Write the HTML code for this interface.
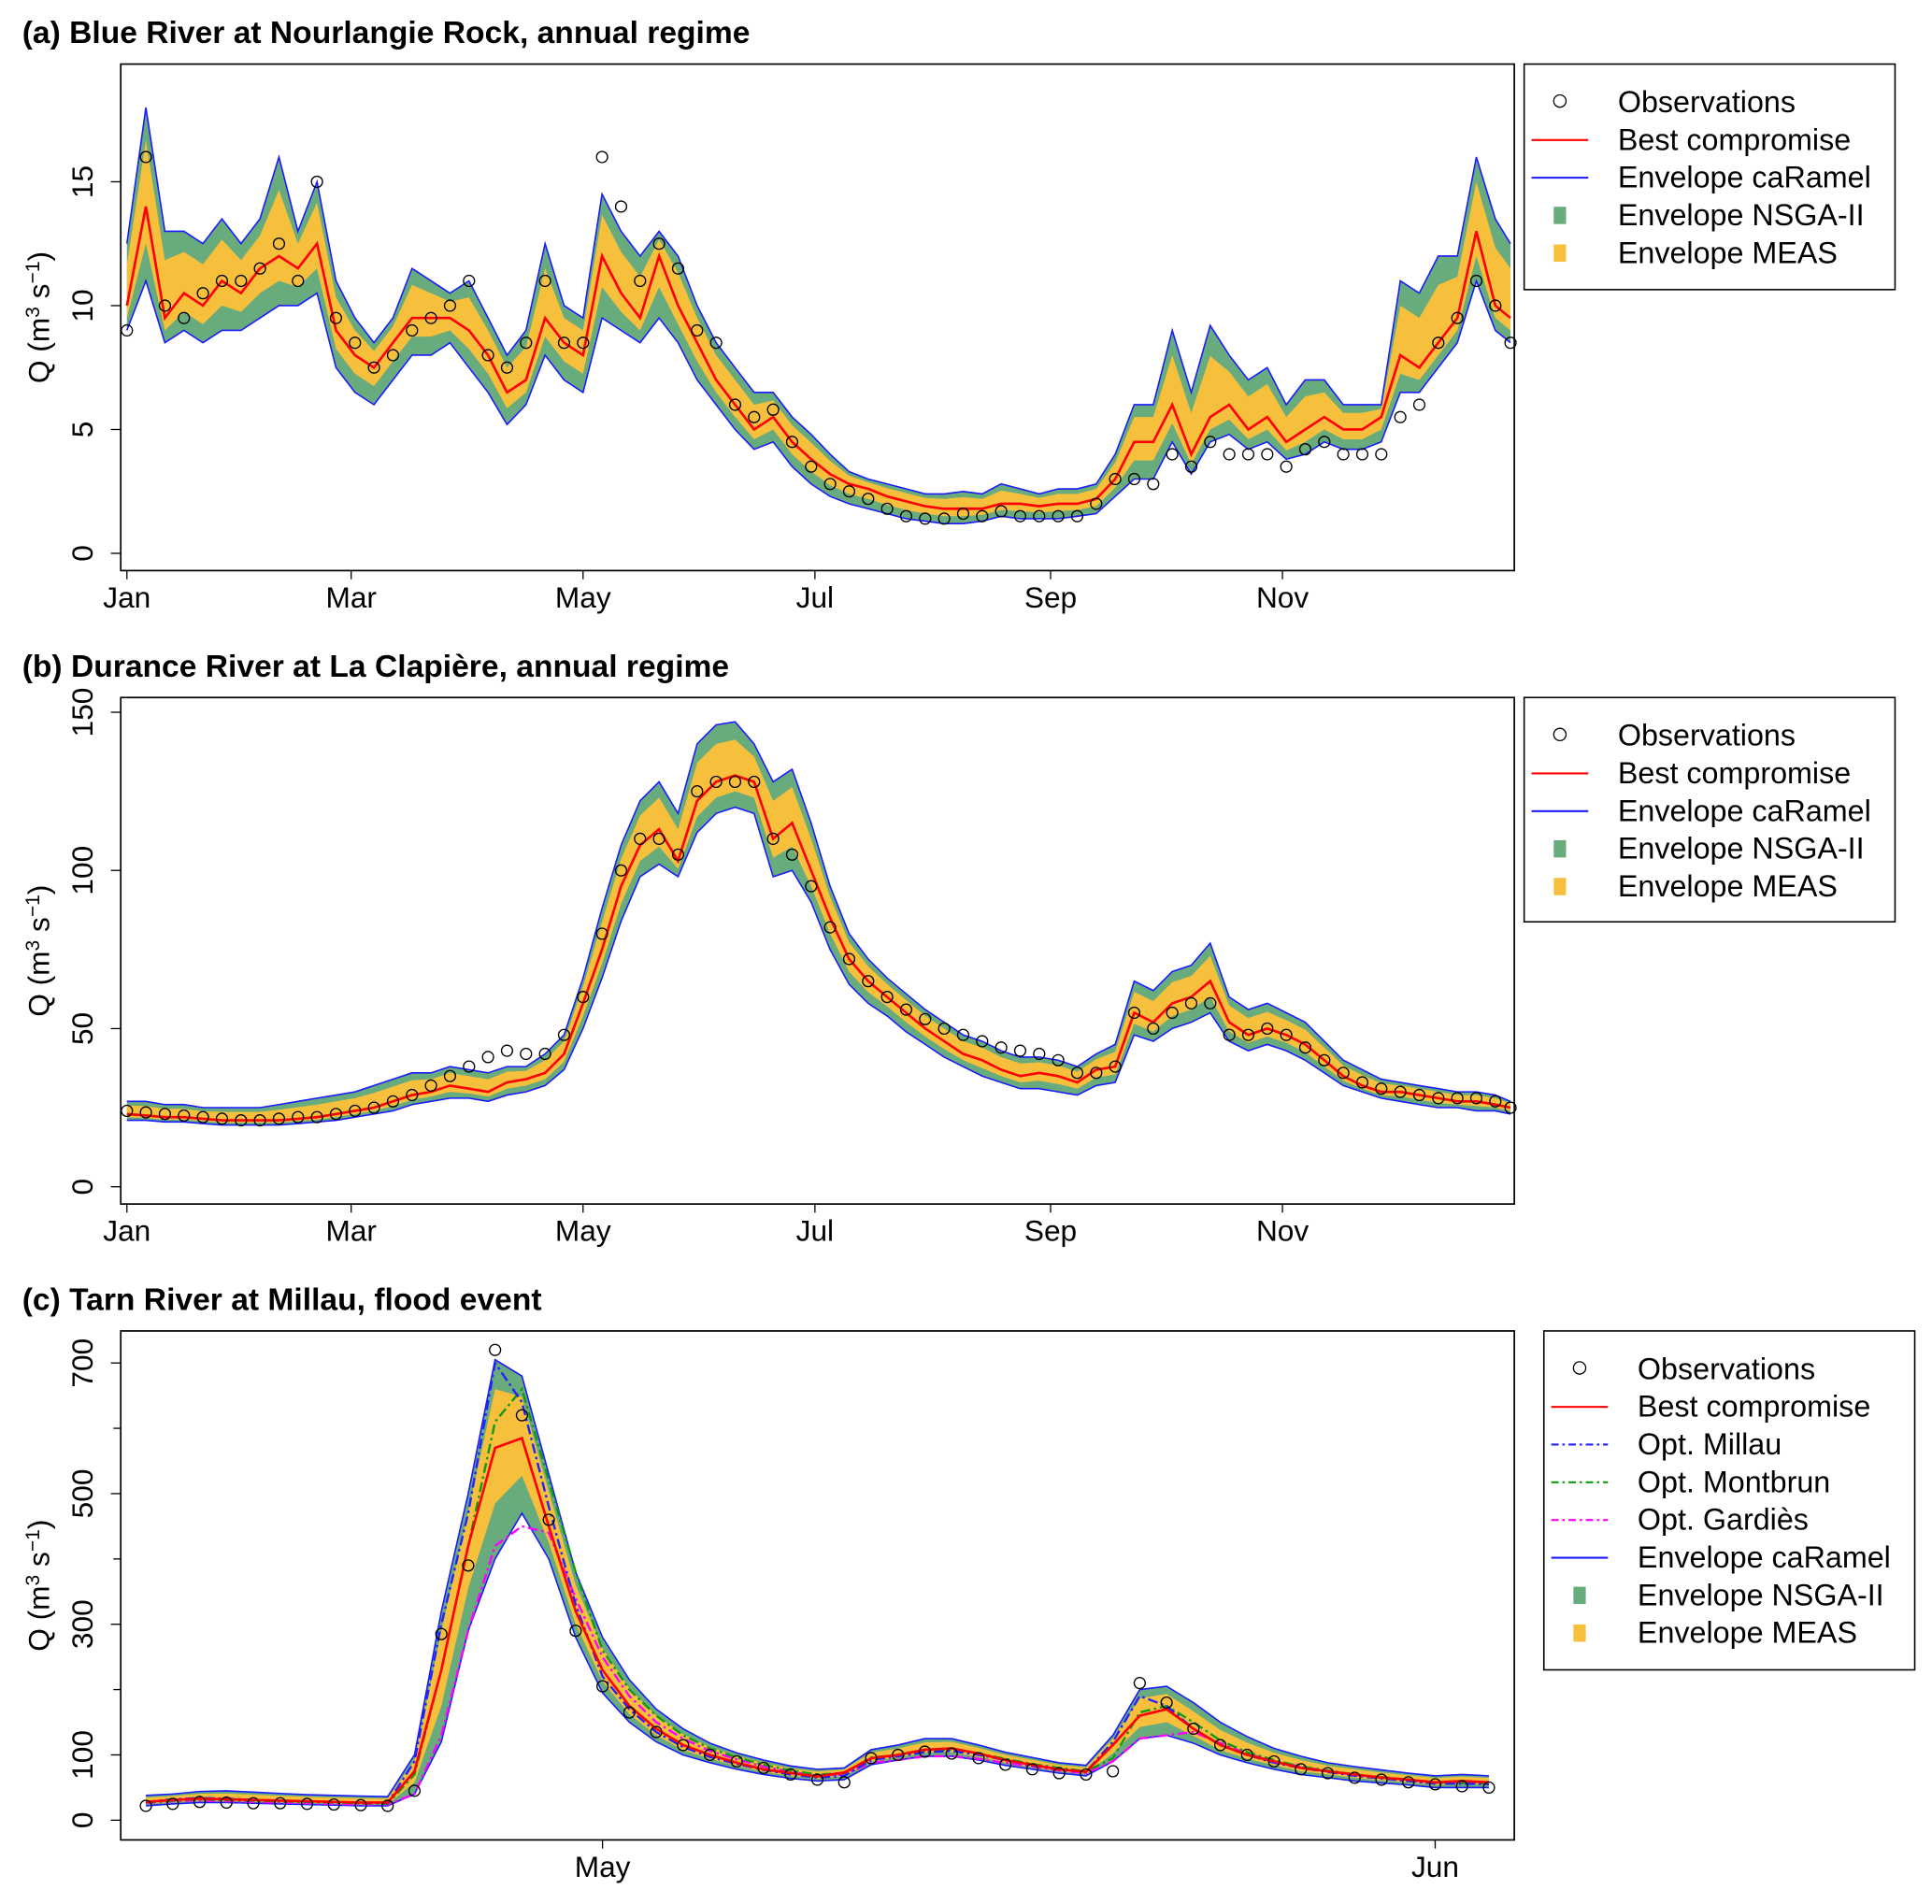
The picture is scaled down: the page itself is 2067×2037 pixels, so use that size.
<!DOCTYPE html>
<html><head><meta charset="utf-8"><style>
html,body{margin:0;padding:0;background:#fff;}
svg{display:block;font-family:"Liberation Sans",Arial,sans-serif;}
</style></head><body>
<svg id="fig" width="2067" height="2037" viewBox="0 0 1568 1545" preserveAspectRatio="none" xmlns="http://www.w3.org/2000/svg"></svg>
<script>
// ---------- Panel (a) data ----------
const doyA = [0,5,10,15,20,25,30,35,40,45,50,55,60,65,70,75,80,85,90,95,100,105,110,115,120,125,130,135,140,145,150,155,160,165,170,175,180,185,190,195,200,205,210,215,220,225,230,235,240,245,250,255,260,265,270,275,280,285,290,295,300,305,310,315,320,325,330,335,340,345,350,355,360,364];
const bestA = [10,14,9.5,10.5,10,11,10.5,11.5,12,11.5,12.5,9,8,7.5,8.5,9.5,9.5,9.5,9,8,6.5,7,9.5,8.5,8,12,10.5,9.5,12,10,8.5,7,6,5,5.5,4.5,3.8,3.2,2.8,2.6,2.3,2.1,1.9,1.8,1.8,1.8,2,2,1.9,2,2,2.2,3,4.5,4.5,6,4,5.5,6,5,5.5,4.5,5,5.5,5,5,5.5,8,7.5,8.5,9.5,13,10,9.5];
const obsA = [9,16,10,9.5,10.5,11,11,11.5,12.5,11,15,9.5,8.5,7.5,8,9,9.5,10,11,8,7.5,8.5,11,8.5,8.5,16,14,11,12.5,11.5,9,8.5,6,5.5,5.8,4.5,3.5,2.8,2.5,2.2,1.8,1.5,1.4,1.4,1.6,1.5,1.7,1.5,1.5,1.5,1.5,2,3,3,2.8,4,3.5,4.5,4,4,4,3.5,4.2,4.5,4,4,4,5.5,6,8.5,9.5,11,10,8.5];
const hiA = [12.5,18,13,13,12.5,13.5,12.5,13.5,16,13,15,11,9.5,8.5,9.5,11.5,11,10.5,11,9.5,8,9,12.5,10,9.5,14.5,13,12,13,12,10,8.5,7.5,6.5,6.5,5.5,4.8,4,3.3,3,2.8,2.6,2.4,2.4,2.5,2.4,2.8,2.6,2.4,2.6,2.6,2.8,4,6,6,9,6.5,9.2,8,7,7.5,6,7,7,6,6,6,11,10.5,12,12,16,13.5,12.5];
const loA = [9,11,8.5,9,8.5,9,9,9.5,10,10,10.5,7.5,6.5,6,7,8,8,8.5,7.5,6.5,5.2,6,8,7,6.5,9.5,9,8.5,9.5,8.5,7,6,5,4.2,4.5,3.5,2.8,2.3,2,1.8,1.6,1.4,1.3,1.2,1.2,1.3,1.5,1.4,1.4,1.4,1.5,1.6,2.3,3,3,4.5,3.2,4.5,4.8,4.2,4.5,3.8,4,4.5,4.2,4.2,4.5,6.5,6.5,7.5,8.5,11,9,8.5];
const yTicksA = [0,5,10,15];

// ---------- Panel (b) data ----------
const doyB = doyA.slice();
const bestB = [23,22.5,22,22,21.5,21,21,21,21,21.5,22,23,24,25,27,29,30,32,31,30,33,34,36,42,58,75,95,108,113,103,122,128,130,128,110,115,100,85,72,65,60,55,50,46,42,40,37,35,36,35,33,37,38,55,52,58,60,65,52,48,50,48,45,40,35,32,30,30,29,28,27,27,26,25];
const obsB = [24,23.5,23,22.5,22,21.5,21,21,21.5,22,22,23,24,25,27,29,32,35,38,41,43,42,42,48,60,80,100,110,110,105,125,128,128,128,110,105,95,82,72,65,60,56,53,50,48,46,44,43,42,40,36,36,38,55,50,55,58,58,48,48,50,48,44,40,36,33,31,30,29,28,28,28,27,25];
const hiB = [27,27,26,26,25,25,25,25,26,27,28,29,30,32,34,36,36,38,37,36,38,38,42,48,66,88,108,122,128,118,140,146,147,140,128,132,115,95,80,72,66,61,56,52,48,46,43,41,41,40,38,42,45,65,62,68,70,77,60,56,58,55,52,46,40,37,34,33,32,31,30,30,29,27];
const loB = [21,21,20.5,20.5,20,19.5,19.5,19.5,19.5,20,20.5,21,22,23,24,26,27,28,28,27,29,30,32,37,50,66,84,98,102,98,112,118,120,118,98,100,90,75,64,58,54,49,45,41,38,35,33,31,31,30,29,32,33,48,46,50,52,55,46,43,45,43,40,36,32,30,28,27,26,25,25,24,24,23];
const yTicksB = [0,50,100,150];

// ---------- Panel (c) data ----------
const dayC = [-17,-16,-15,-14,-13,-12,-11,-10,-9,-8,-7,-6,-5,-4,-3,-2,-1,0,1,2,3,4,5,6,7,8,9,10,11,12,13,14,15,16,17,18,19,20,21,22,23,24,25,26,27,28,29,30,31,32,33];
const obsC = [22,25,28,27,26,26,25,24,23,22,45,285,390,720,620,460,290,205,165,135,115,100,90,80,70,62,58,95,100,105,102,95,85,78,72,70,75,210,180,140,115,100,90,78,72,65,62,58,55,52,50];
const bestC = [28,31,33,32,31,30,29,28,27,27,75,230,420,570,585,450,320,230,175,140,115,100,88,78,72,67,73,95,100,108,110,102,92,85,78,74,115,160,170,140,115,100,90,80,75,70,65,62,58,60,58];
const hiC = [38,40,44,45,43,41,39,38,37,36,100,320,500,705,680,530,380,280,215,170,140,118,103,92,83,78,80,108,115,125,125,115,104,96,88,84,130,200,205,180,150,128,110,98,88,82,77,72,68,70,68];
const loC = [22,25,27,27,26,25,24,23,22,22,40,120,290,400,470,400,280,195,150,120,100,88,78,70,64,60,62,85,92,98,98,92,84,78,72,68,90,125,130,118,100,88,78,70,65,60,57,54,50,50,50];
const millauC = [28,32,34,33,31,30,29,28,27,26,90,300,470,700,640,480,330,220,170,135,112,97,86,77,70,65,68,92,98,104,106,100,92,84,78,74,120,190,175,140,115,100,88,80,74,68,64,60,56,56,55];
const montbrunC = [27,30,32,31,30,29,28,27,26,25,70,230,420,610,660,520,380,260,200,160,130,110,96,85,76,70,72,96,100,106,108,102,94,86,80,75,95,165,175,150,122,104,92,82,76,70,66,62,58,57,56];
const gardiesC = [26,29,30,29,28,27,26,25,24,24,40,130,290,420,450,440,340,250,190,150,125,106,93,82,74,68,70,88,92,98,98,94,88,82,76,72,90,125,130,135,118,102,90,82,75,69,65,61,57,58,57];
const yTicksC = [0,100,300,500,700];
const yMinorC = [200,400,600];
const monthLabelsAB = ["Jan","Mar","May","Jul","Sep","Nov"];
const monthDoyAB = [0,59,120,181,243,304];
const monthLabelsC = ["May","Jun"];
const monthDayC = [0,31];

const NS="http://www.w3.org/2000/svg";
const svg=document.getElementById('fig');
const GREEN="#68ab7c", YELLOW="#f6bf3c", BLUE="#1a1aff", RED="#ff0000";
function mk(tag,attrs,parent){const e=document.createElementNS(NS,tag);for(const k in attrs)e.setAttribute(k,attrs[k]);(parent||svg).appendChild(e);return e;}
function linePath(xs,ys,sx,sy){return xs.map((x,i)=>(i?'L':'M')+sx(x).toFixed(1)+','+sy(ys[i]).toFixed(1)).join('');}
function bandPath(xs,lo,hi,sx,sy){let d=xs.map((x,i)=>(i?'L':'M')+sx(x).toFixed(1)+','+sy(hi[i]).toFixed(1)).join('');
 for(let i=xs.length-1;i>=0;i--)d+='L'+sx(xs[i]).toFixed(1)+','+sy(lo[i]).toFixed(1);return d+'Z';}

function panel(p){
 const g=mk('g',{});
 
 
 const t=mk('text',{x:18,y:p.titleY,'font-size':25.5,'font-weight':'bold',fill:'#000'},g);t.textContent=p.title;
 
 const sx=p.sx, sy=p.sy;
 const gb=mk('path',{d:bandPath(p.xs,p.lo,p.hi,sx,sy),fill:GREEN,stroke:'none'},g);
 
 const ylo=p.lo.map((v,i)=>(v+p.best[i])/2), yhi=p.hi.map((v,i)=>(v*2+p.best[i])/3);
 const yb=mk('path',{d:bandPath(p.xs,ylo,yhi,sx,sy),fill:YELLOW,stroke:'none'},g);
 
 const bl1=mk('path',{d:linePath(p.xs,p.hi,sx,sy),fill:'none',stroke:BLUE,'stroke-width':1.2},g);
 
 const bl2=mk('path',{d:linePath(p.xs,p.lo,sx,sy),fill:'none',stroke:BLUE,'stroke-width':1.2},g);
 
 if(p.opts){p.opts.forEach(o=>{const l=mk('path',{d:linePath(p.xs,o.v,sx,sy),fill:'none',stroke:o.c,'stroke-width':1.8,'stroke-dasharray':'8,3,2,3'},g);
  });}
 const br=mk('path',{d:linePath(p.xs,p.best,sx,sy),fill:'none',stroke:RED,'stroke-width':2},g);
 
 p.xs.forEach((x,i)=>{const c=mk('circle',{cx:sx(x),cy:sy(p.obs[i]),r:4.5,fill:'none',stroke:'#000','stroke-width':1},g);
  });
 const bx=mk('rect',{x:98,y:p.top,width:1131,height:p.bot-p.top,fill:'none',stroke:'#000','stroke-width':1.3},g);
 
 p.yt.forEach(v=>{mk('line',{x1:90,x2:98,y1:sy(v),y2:sy(v),stroke:'#000'},g);
  const tl=mk('text',{x:75,y:sy(v),'font-size':24,'text-anchor':'middle',transform:`rotate(-90 75 ${sy(v)})`},g);tl.textContent=v;
  });
 (p.ym||[]).forEach(v=>mk('line',{x1:92,x2:98,y1:sy(v),y2:sy(v),stroke:'#000'},g));
 p.xt.forEach((v,i)=>{const X=sx(v);mk('line',{x1:X,x2:X,y1:p.bot,y2:p.bot+7,stroke:'#000'},g);
  const tl=mk('text',{x:X,y:p.bot+30,'font-size':24,'text-anchor':'middle'},g);tl.textContent=p.xl[i];
  });
 const cy=(p.top+p.bot)/2;
 const yt=mk('text',{x:40,y:cy,'font-size':24,'text-anchor':'middle',transform:`rotate(-90 40 ${cy})`},g);
 yt.innerHTML='Q (m<tspan dy="-8" font-size="16">3</tspan><tspan dy="8"> s</tspan><tspan dy="-8" font-size="16">−1</tspan><tspan dy="8">)</tspan>';
 
 const L=p.leg;
 const lb=mk('rect',{x:L.x,y:L.y,width:L.w,height:L.h,fill:'#fff',stroke:'#000','stroke-width':1.2},g);
 
 L.items.forEach((it,i)=>{const y=L.y+31+i*30.6;const sxp=L.x+29;
  if(it.t==='o')mk('circle',{cx:sxp,cy:y-1,r:5,fill:'none',stroke:'#000'},g);
  else if(it.t==='l')mk('line',{x1:sxp-23,x2:sxp+23,y1:y,y2:y,stroke:it.c,'stroke-width':1.6,'stroke-dasharray':it.d||''},g);
  else mk('rect',{x:sxp-5,y:y-7,width:10,height:14,fill:it.c},g);
  const tx=mk('text',{x:L.x+76,y:y+8,'font-size':24.5},g);tx.textContent=it.s;
  });
}
const baseLeg=[{t:'o',s:'Observations'},{t:'l',c:RED,s:'Best compromise'},{t:'l',c:BLUE,s:'Envelope caRamel'},{t:'r',c:GREEN,s:'Envelope NSGA-II'},{t:'r',c:YELLOW,s:'Envelope MEAS'}];
const sxAB=d=>103+3.085*d;
panel({name:'panel-a-blue-river',title:'(a) Blue River at Nourlangie Rock, annual regime',titleY:35,top:52,bot:463,
 sx:sxAB,sy:v=>449-20.1*v,xs:doyA,best:bestA,obs:obsA,hi:hiA,lo:loA,yt:yTicksA,xt:monthDoyAB,xl:monthLabelsAB,
 leg:{x:1237,y:52,w:301,h:183,items:baseLeg}});
panel({name:'panel-b-durance-river',title:'(b) Durance River at La Clapière, annual regime',titleY:549,top:566,bot:977,
 sx:sxAB,sy:v=>963-2.567*v,xs:doyB,best:bestB,obs:obsB,hi:hiB,lo:loB,yt:yTicksB,xt:monthDoyAB,xl:monthLabelsAB,
 leg:{x:1237,y:566,w:301,h:182,items:baseLeg}});
panel({name:'panel-c-tarn-river',title:'(c) Tarn River at Millau, flood event',titleY:1063,top:1080,bot:1493,
 sx:d=>489+21.8*d,sy:v=>1477-0.53*v,xs:dayC,best:bestC,obs:obsC,hi:hiC,lo:loC,yt:yTicksC,ym:yMinorC,xt:monthDayC,xl:monthLabelsC,
 opts:[{n:'opt-gardies-line',c:'#ff00ff',v:gardiesC},{n:'opt-montbrun-line',c:'#119911',v:montbrunC},{n:'opt-millau-line',c:'#2222ff',v:millauC}],
 leg:{x:1253,y:1080,w:301,h:275,items:[{t:'o',s:'Observations'},{t:'l',c:RED,s:'Best compromise'},{t:'l',c:'#2222ff',d:'6,3,2,3',s:'Opt. Millau'},{t:'l',c:'#119911',d:'6,3,2,3',s:'Opt. Montbrun'},{t:'l',c:'#ff00ff',d:'6,3,2,3',s:'Opt. Gardiès'},{t:'l',c:BLUE,s:'Envelope caRamel'},{t:'r',c:GREEN,s:'Envelope NSGA-II'},{t:'r',c:YELLOW,s:'Envelope MEAS'}]}});
</script>
</body></html>
